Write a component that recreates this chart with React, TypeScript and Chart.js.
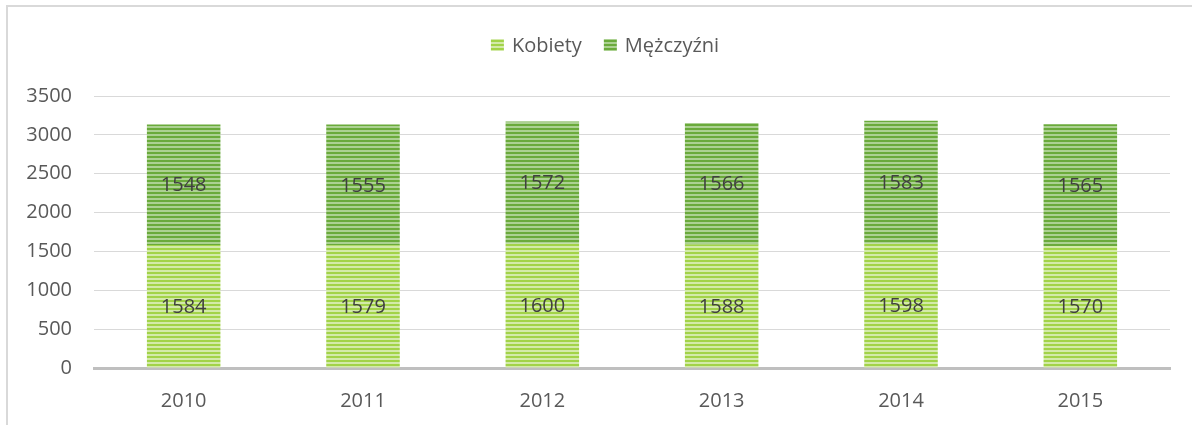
import React, { useEffect, useRef } from "react";
import { Chart, registerables } from "chart.js";

Chart.register(...registerables);

const years = ["2010", "2011", "2012", "2013", "2014", "2015"];
const kobiety = [1584, 1579, 1600, 1588, 1598, 1570];
const mezczyzni = [1548, 1555, 1572, 1566, 1583, 1565];
const seriesNames = ["Kobiety", "Mężczyźni"];
const yTicks = [0, 500, 1000, 1500, 2000, 2500, 3000, 3500];

const FONT = "'Open Sans', 'Noto Sans', sans-serif";

function makePattern(dark: string, light: string): CanvasPattern | string {
  const c = document.createElement("canvas");
  c.width = 4;
  c.height = 4;
  const ctx = c.getContext("2d");
  if (!ctx) return dark;
  ctx.fillStyle = light;
  ctx.fillRect(0, 0, 4, 4);
  ctx.fillStyle = dark;
  ctx.fillRect(0, 0, 4, 2);
  const p = ctx.createPattern(c, "repeat");
  return p || dark;
}

export default function App() {
  const ref = useRef<HTMLCanvasElement>(null);

  useEffect(() => {
    if (!ref.current) return;
    const fills = [makePattern("#a2d348", "#d3eaa9"), makePattern("#6aaa3b", "#acd192")];

    const dataLabels = {
      id: "dataLabels",
      afterDatasetsDraw(chart: any) {
        const ctx = chart.ctx;
        ctx.save();
        ctx.font = `20px ${FONT}`;
        ctx.fillStyle = "#404040";
        ctx.textAlign = "center";
        ctx.textBaseline = "middle";
        chart.data.datasets.forEach((ds: any, i: number) => {
          const meta = chart.getDatasetMeta(i);
          meta.data.forEach((el: any, j: number) => {
            ctx.fillText(String(ds.data[j]), el.x, (el.y + el.base) / 2 + 1);
          });
        });
        ctx.restore();
      },
    };

    const customLegend = {
      id: "customLegend",
      afterDraw(chart: any) {
        const ctx = chart.ctx;
        ctx.save();
        ctx.font = `20px ${FONT}`;
        const box = 13;
        const gapText = 8;
        const gapItem = 22;
        const widths = seriesNames.map((n) => box + gapText + ctx.measureText(n).width);
        const total = widths.reduce((a, b) => a + b, 0) + gapItem * (widths.length - 1);
        let x = 605 - total / 2;
        const cy = 45;
        seriesNames.forEach((n, i) => {
          ctx.fillStyle = fills[i] as any;
          ctx.fillRect(x, cy - 6, box, 12);
          ctx.fillStyle = "#595959";
          ctx.textAlign = "left";
          ctx.textBaseline = "middle";
          ctx.fillText(n, x + box + gapText, cy + 1);
          x += widths[i] + gapItem;
        });
        ctx.restore();
      },
    };

    const chart = new Chart(ref.current, {
      type: "bar",
      data: {
        labels: years,
        datasets: [
          {
            label: seriesNames[0],
            data: kobiety,
            backgroundColor: fills[0] as any,
            barPercentage: 0.41,
            categoryPercentage: 1,
          },
          {
            label: seriesNames[1],
            data: mezczyzni,
            backgroundColor: fills[1] as any,
            barPercentage: 0.41,
            categoryPercentage: 1,
          },
        ],
      },
      options: {
        animation: false,
        responsive: false,
        maintainAspectRatio: false,
        layout: { padding: { top: 96, right: 22, bottom: 0, left: 0 } },
        plugins: {
          legend: { display: false },
          tooltip: { enabled: false },
        },
        scales: {
          x: {
            stacked: true,
            grid: { display: false, drawTicks: false },
            border: { display: true, color: "#bfbfbf", width: 3 },
            ticks: {
              padding: 21,
              color: "#595959",
              font: { family: FONT, size: 20 },
            },
            afterFit(scale: any) {
              scale.height = 57;
            },
          },
          y: {
            stacked: true,
            min: 0,
            max: 3500,
            afterBuildTicks(scale: any) {
              scale.ticks = yTicks.map((v) => ({ value: v }));
            },
            grid: { color: "#d9d9d9", lineWidth: 1, drawTicks: false },
            border: { display: false },
            ticks: {
              padding: 22,
              color: "#595959",
              font: { family: FONT, size: 20 },
              callback: (v: any) => String(v),
            },
            afterFit(scale: any) {
              scale.width = 94;
            },
          },
        },
      },
      plugins: [dataLabels, customLegend],
    });
    return () => chart.destroy();
  }, []);

  return (
    <div style={{ position: "fixed", left: 0, top: 0, width: 1192, height: 425, background: "#fff", overflow: "hidden" }}>
      <div
        style={{
          position: "absolute",
          left: 6,
          top: 5,
          width: 1200,
          height: 440,
          borderTop: "2px solid #d9d9d9",
          borderLeft: "2px solid #d9d9d9",
        }}
      />
      <canvas ref={ref} width={1192} height={425} style={{ position: "absolute", left: 0, top: 0 }} />
    </div>
  );
}
